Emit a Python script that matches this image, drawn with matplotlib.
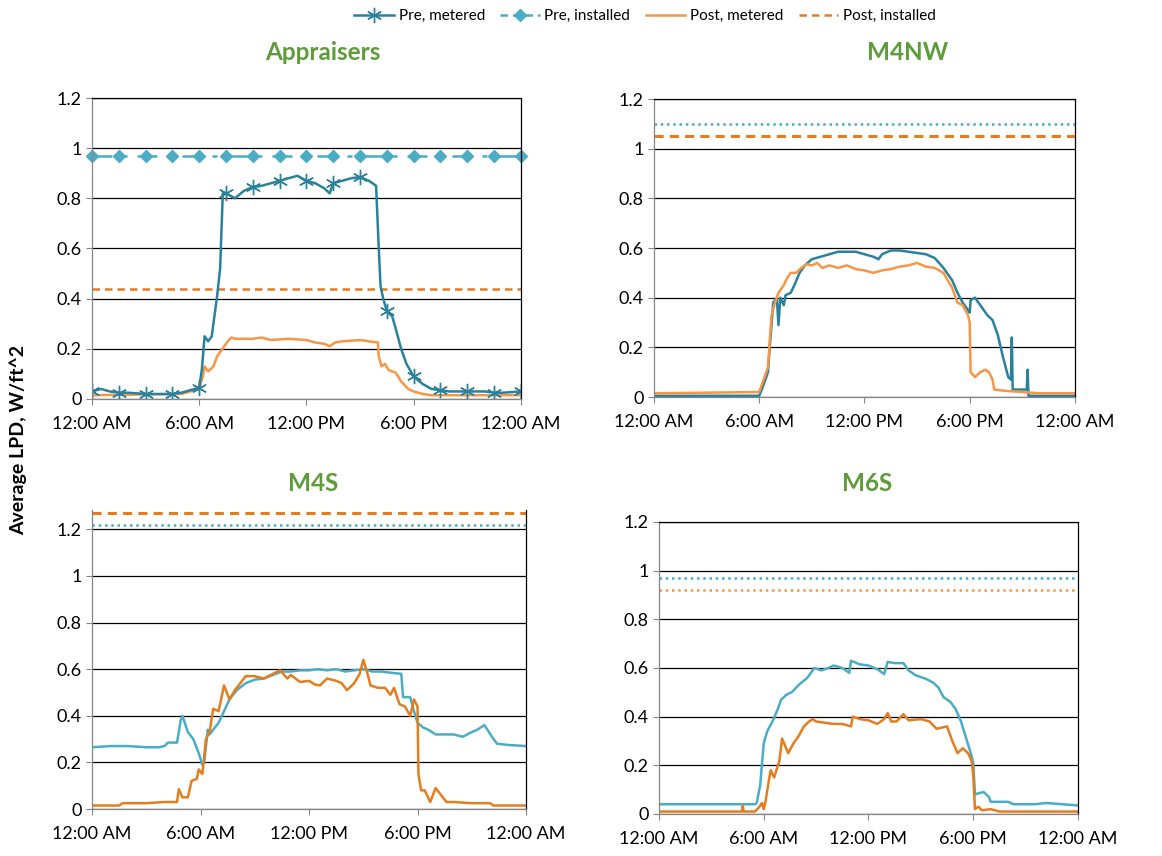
import matplotlib
matplotlib.use('Agg')
import matplotlib.pyplot as plt
from matplotlib.lines import Line2D

plt.rcParams['font.family'] = ['Lato', 'DejaVu Sans']

# hour-of-day readings, Appraisers
app_pre_t = [0, 0.5, 1, 1.5, 2, 3, 4, 4.5, 5, 5.5, 6, 6.15, 6.3, 6.5, 6.7, 7.0, 7.17, 7.27,
             7.32, 7.5, 8, 8.5, 9, 9.5, 10, 10.5, 11, 11.5, 12, 12.5, 13, 13.3, 13.5, 14,
             14.5, 15, 15.5, 15.9, 16.05, 16.15, 16.3, 16.5, 16.8, 17.0, 17.3, 17.6, 18,
             18.5, 19, 19.5, 20, 21, 22, 22.5, 23, 24]
app_pre_v = [0.03, 0.04, 0.03, 0.025, 0.025, 0.02, 0.02, 0.02, 0.025, 0.035, 0.045, 0.12,
             0.25, 0.23, 0.25, 0.41, 0.52, 0.72, 0.82, 0.82, 0.80, 0.83, 0.845, 0.85, 0.86,
             0.87, 0.88, 0.89, 0.87, 0.86, 0.84, 0.82, 0.86, 0.87, 0.88, 0.885, 0.87, 0.85,
             0.60, 0.45, 0.40, 0.35, 0.33, 0.28, 0.20, 0.14, 0.09, 0.06, 0.04, 0.035, 0.03,
             0.03, 0.03, 0.025, 0.025, 0.03]
app_post_t = [0, 5.0, 5.5, 6, 6.2, 6.3, 6.5, 6.8, 7, 7.3, 7.6, 7.8, 8, 9, 9.5, 10, 11, 12,
              12.5, 13, 13.3, 13.6, 14, 15, 15.5, 16, 16.05, 16.2, 16.4, 16.6, 17, 17.3,
              17.7, 18, 18.5, 19, 24]
app_post_v = [0.015, 0.02, 0.03, 0.04, 0.09, 0.13, 0.11, 0.13, 0.17, 0.20, 0.23, 0.245,
              0.24, 0.24, 0.245, 0.235, 0.24, 0.235, 0.225, 0.22, 0.21, 0.225, 0.23, 0.235,
              0.23, 0.225, 0.17, 0.13, 0.14, 0.115, 0.105, 0.07, 0.04, 0.03, 0.02, 0.015,
              0.015]
app_installed = (0.97, 0.44)

# M4NW
nw_pre_t = [0, 6.0, 6.2, 6.5, 6.6, 6.8, 7.0, 7.1, 7.2, 7.4, 7.5, 7.8, 8.0, 8.3, 8.6, 9,
            9.5, 10, 10.5, 11, 11.5, 12, 12.5, 12.8, 13, 13.5, 14, 14.5, 15, 15.5, 16,
            16.5, 17, 17.3, 17.6, 17.9, 18.0, 18.05, 18.3, 18.6, 19, 19.3, 19.6, 19.9,
            20.2, 20.35, 20.4, 20.45, 21, 21.25, 21.3, 21.35, 22, 24]
nw_pre_v = [0.005, 0.005, 0.04, 0.10, 0.20, 0.38, 0.40, 0.29, 0.40, 0.37, 0.41, 0.42,
            0.45, 0.50, 0.53, 0.555, 0.565, 0.575, 0.585, 0.585, 0.585, 0.575, 0.565,
            0.555, 0.575, 0.59, 0.59, 0.585, 0.58, 0.575, 0.56, 0.52, 0.47, 0.42, 0.38,
            0.35, 0.34, 0.39, 0.40, 0.37, 0.33, 0.31, 0.25, 0.16, 0.08, 0.07, 0.24, 0.03,
            0.03, 0.03, 0.11, 0.005, 0.005, 0.005]
nw_post_t = [0, 6.0, 6.3, 6.5, 6.7, 6.9, 7.1, 7.4, 7.6, 7.8, 8.1, 8.4, 8.7, 9, 9.3, 9.6,
             10, 10.5, 11, 11.5, 12, 12.5, 13, 13.5, 14, 14.5, 15, 15.5, 16, 16.5, 17,
             17.3, 17.6, 17.9, 18.0, 18.05, 18.3, 18.6, 18.9, 19.1, 19.3, 19.4, 20, 21,
             22, 24]
nw_post_v = [0.015, 0.02, 0.08, 0.12, 0.33, 0.38, 0.42, 0.45, 0.48, 0.50, 0.50, 0.52,
             0.535, 0.53, 0.54, 0.52, 0.53, 0.52, 0.53, 0.515, 0.51, 0.50, 0.51, 0.515,
             0.525, 0.53, 0.54, 0.525, 0.52, 0.50, 0.44, 0.38, 0.37, 0.33, 0.30, 0.10,
             0.08, 0.10, 0.11, 0.10, 0.07, 0.03, 0.025, 0.02, 0.015, 0.015]
nw_installed = (1.10, 1.05)

# M4S
s4_pre_t = [0, 1, 2, 3, 3.7, 4, 4.2, 4.7, 4.9, 5.0, 5.3, 5.6, 5.9, 6.1, 6.2, 6.4, 6.5,
            6.7, 7.0, 7.3, 7.6, 8, 8.5, 9, 9.5, 10, 10.5, 11, 11.5, 12, 12.5, 13, 13.5,
            14, 14.5, 15, 15.5, 16, 16.5, 17.1, 17.2, 17.6, 17.8, 18, 18.3, 18.6, 19,
            19.5, 20, 20.5, 21, 21.3, 21.7, 22.2, 22.4, 23, 24]
s4_pre_v = [0.265, 0.27, 0.27, 0.265, 0.265, 0.27, 0.285, 0.285, 0.38, 0.40, 0.33, 0.30,
            0.24, 0.19, 0.20, 0.34, 0.32, 0.34, 0.37, 0.42, 0.47, 0.51, 0.54, 0.555, 0.56,
            0.575, 0.59, 0.59, 0.595, 0.595, 0.60, 0.595, 0.60, 0.59, 0.595, 0.60, 0.59,
            0.59, 0.585, 0.58, 0.48, 0.48, 0.42, 0.37, 0.35, 0.34, 0.32, 0.32, 0.32, 0.31,
            0.33, 0.34, 0.36, 0.30, 0.28, 0.275, 0.27]
s4_post_t = [0, 1.5, 1.7, 3, 4, 4.7, 4.8, 5.0, 5.3, 5.5, 5.8, 5.9, 6.1, 6.3, 6.5, 6.7,
             7.0, 7.3, 7.6, 7.9, 8.2, 8.5, 9, 9.5, 10, 10.4, 10.8, 11, 11.5, 12, 12.3,
             12.6, 13, 13.5, 13.8, 14.1, 14.5, 14.8, 15.0, 15.2, 15.4, 15.8, 16.2, 16.5,
             16.7, 17.0, 17.3, 17.6, 17.8, 18.0, 18.05, 18.2, 18.4, 18.7, 19.0, 19.3,
             19.6, 20, 21, 22, 22.2, 24]
s4_post_v = [0.015, 0.015, 0.025, 0.025, 0.03, 0.03, 0.085, 0.05, 0.05, 0.12, 0.13,
             0.17, 0.15, 0.30, 0.33, 0.43, 0.42, 0.53, 0.47, 0.51, 0.54, 0.57, 0.57,
             0.56, 0.58, 0.595, 0.56, 0.575, 0.545, 0.55, 0.535, 0.53, 0.56, 0.55, 0.54,
             0.51, 0.54, 0.58, 0.64, 0.59, 0.53, 0.52, 0.52, 0.49, 0.52, 0.45, 0.44, 0.40,
             0.47, 0.44, 0.15, 0.08, 0.08, 0.03, 0.09, 0.06, 0.03, 0.03, 0.025, 0.025,
             0.015, 0.015]
s4_installed = (1.22, 1.27)

# M6S
s6_pre_t = [0, 5.5, 5.6, 5.8, 6.0, 6.2, 6.5, 6.8, 7.0, 7.3, 7.6, 8.0, 8.5, 8.9, 9.3,
            9.7, 10, 10.5, 10.9, 11.0, 11.5, 12, 12.5, 12.9, 13.1, 13.5, 14.0, 14.3,
            14.7, 15.3, 15.7, 16.0, 16.3, 16.7, 17.0, 17.3, 17.6, 17.9, 18.0, 18.1, 18.3,
            18.6, 18.9, 19.0, 20, 20.3, 21.5, 22.2, 24]
s6_pre_v = [0.04, 0.04, 0.045, 0.12, 0.29, 0.34, 0.38, 0.43, 0.47, 0.49, 0.50, 0.53,
            0.56, 0.60, 0.59, 0.60, 0.61, 0.60, 0.58, 0.63, 0.615, 0.61, 0.595, 0.575,
            0.625, 0.62, 0.62, 0.59, 0.57, 0.555, 0.54, 0.52, 0.48, 0.46, 0.43, 0.38,
            0.31, 0.24, 0.21, 0.08, 0.085, 0.09, 0.07, 0.05, 0.05, 0.04, 0.04, 0.045,
            0.035]
s6_post_t = [0, 4.75, 4.8, 4.85, 5.5, 5.7, 5.9, 6.0, 6.1, 6.3, 6.4, 6.6, 6.9, 7.05, 7.4,
             7.7, 8.0, 8.3, 8.6, 8.8, 9, 9.5, 10, 10.5, 11, 11.1, 11.5, 12, 12.5, 12.9,
             13.1, 13.3, 13.6, 14, 14.3, 15, 15.5, 15.9, 16.5, 16.8, 17.1, 17.4, 17.7,
             17.9, 18.0, 18.1, 18.3, 18.5, 19, 19.5, 24]
s6_post_v = [0.01, 0.01, 0.035, 0.01, 0.01, 0.025, 0.045, 0.02, 0.05, 0.14, 0.18, 0.15,
             0.22, 0.31, 0.25, 0.29, 0.32, 0.36, 0.38, 0.39, 0.38, 0.375, 0.37, 0.37,
             0.36, 0.40, 0.39, 0.385, 0.37, 0.39, 0.415, 0.38, 0.38, 0.41, 0.385, 0.39,
             0.38, 0.35, 0.36, 0.30, 0.25, 0.27, 0.25, 0.22, 0.16, 0.02, 0.03, 0.015,
             0.02, 0.01, 0.01]
s6_installed = (0.97, 0.92)

hour_ticks = [0, 6, 12, 18, 24]
hour_labels = ['12:00 AM', '6:00 AM', '12:00 PM', '6:00 PM', '12:00 AM']

TEAL = '#2A819C'
LBLUE = '#4BACC6'
ORANGE = '#F79646'
DORANGE = '#E47D1E'
GREEN = '#5E9C3A'

fig = plt.figure(figsize=(11.62, 8.56), dpi=100)


def style_axes(ax, title, title_xy, ytop):
    ax.set_xlim(0, 24)
    ax.set_ylim(0, ytop)
    ax.set_yticks([0, 0.2, 0.4, 0.6, 0.8, 1, 1.2])
    ax.set_yticklabels(['0', '0.2', '0.4', '0.6', '0.8', '1', '1.2'])
    ax.set_xticks(hour_ticks)
    ax.set_xticklabels(hour_labels)
    ax.yaxis.grid(True, color='black', lw=0.9)
    ax.set_axisbelow(True)
    ax.tick_params(axis='both', labelsize=13, length=4, color='#868686', direction='out')
    ax.tick_params(axis='x', pad=8)
    for side in ['left', 'bottom']:
        ax.spines[side].set_color('#868686')
    for side in ['top', 'right']:
        ax.spines[side].set_color('black')
    for s in ax.spines.values():
        s.set_linewidth(0.9)
    fig.text(title_xy[0] / 1162, 1 - title_xy[1] / 856, title, color=GREEN,
             fontsize=17.5, fontweight='bold', ha='center', va='center')


# Appraisers
ax1 = fig.add_axes([0.0792, 0.5339, 0.369, 0.3516])
style_axes(ax1, 'Appraisers', (323, 52), 1.2)
ax1.axhline(app_installed[1], color=DORANGE, lw=1.8, ls=(0, (3, 2)))
ax1.plot(app_post_t, app_post_v, color=ORANGE, lw=1.8)
marks = [i for i, t in enumerate(app_pre_t) if abs(t / 1.5 - round(t / 1.5)) < 1e-6]
ax1.plot(app_pre_t, app_pre_v, color=TEAL, lw=1.8, marker=(6, 2, 0), ms=11,
         markevery=marks, mec=TEAL, mew=1.0)
inst_t = [i * 1.5 for i in range(17)]
ax1.plot(inst_t, [app_installed[0]] * len(inst_t), color=LBLUE, lw=1.8,
         ls=(0, (8, 4, 2, 4)), marker='D', ms=6.5, clip_on=False)

# M4NW
ax2 = fig.add_axes([0.5628, 0.5362, 0.3623, 0.3481])
style_axes(ax2, 'M4NW', (908, 52), 1.2)
ax2.axhline(nw_installed[0], color=LBLUE, lw=1.8, ls=(0, (1, 1.5)))
ax2.axhline(nw_installed[1], color=DORANGE, lw=2.2, ls=(0, (3, 2)))
ax2.plot(nw_pre_t, nw_pre_v, color=TEAL, lw=1.8)
ax2.plot(nw_post_t, nw_post_v, color=ORANGE, lw=1.8)

# M4S
ax3 = fig.add_axes([0.0792, 0.0549, 0.3735, 0.3493])
style_axes(ax3, 'M4S', (313, 483), 1.283)
ax3.spines['top'].set_visible(False)
ax3.axhline(s4_installed[0], color=LBLUE, lw=1.8, ls=(0, (1, 1.5)))
ax3.axhline(s4_installed[1], color=DORANGE, lw=2.2, ls=(0, (3, 2)))
ax3.plot(s4_pre_t, s4_pre_v, color=LBLUE, lw=1.8)
ax3.plot(s4_post_t, s4_post_v, color=DORANGE, lw=1.8)

# M6S
ax4 = fig.add_axes([0.5671, 0.0491, 0.3606, 0.3411])
style_axes(ax4, 'M6S', (867, 483), 1.2)
ax4.axhline(s6_installed[0], color=LBLUE, lw=1.8, ls=(0, (1, 1.5)))
ax4.axhline(s6_installed[1], color=ORANGE, lw=1.8, ls=(0, (1, 1.5)))
ax4.plot(s6_pre_t, s6_pre_v, color=LBLUE, lw=1.8)
ax4.plot(s6_post_t, s6_post_v, color=DORANGE, lw=1.8)

fig.text(18 / 1162, 1 - 440 / 856, 'Average LPD, W/ft^2', rotation=90,
         fontsize=14, fontweight='bold', ha='center', va='center')

handles = [
    Line2D([], [], color=TEAL, lw=1.8, marker=(6, 2, 0), ms=11, mew=1.0),
    Line2D([], [], color=LBLUE, lw=1.8, ls=(0, (3, 2)), marker='D', ms=6),
    Line2D([], [], color=ORANGE, lw=1.8),
    Line2D([], [], color=DORANGE, lw=1.8, ls=(0, (3, 2))),
]
fig.legend(handles, ['Pre, metered', 'Pre, installed', 'Post, metered', 'Post, installed'],
           loc='center', bbox_to_anchor=(645 / 1162, 1 - 16 / 856), ncol=4,
           frameon=False, fontsize=11, handlelength=2.6, columnspacing=1.0,
           handletextpad=0.3)

fig.savefig('out.png', dpi=100)
